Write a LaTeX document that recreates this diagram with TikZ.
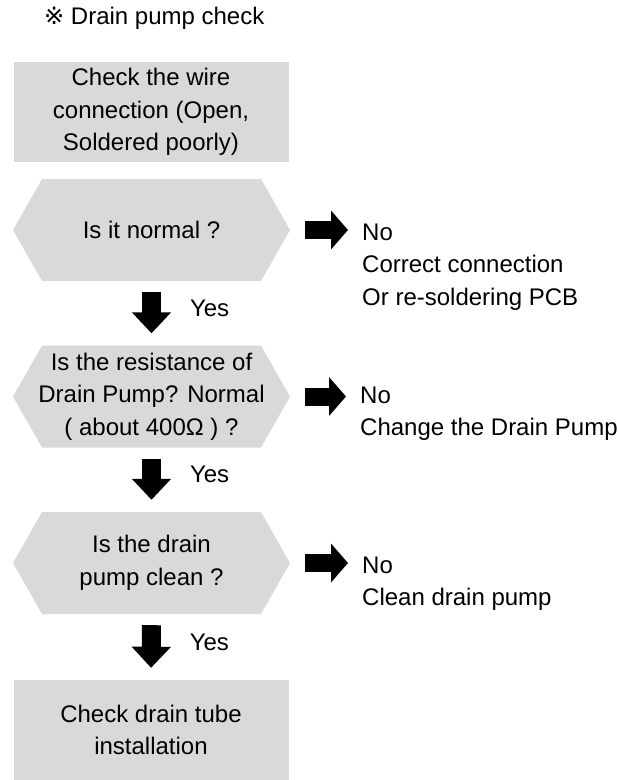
\documentclass[tikz,border=0pt]{standalone}
\usepackage{fontspec}
\setmainfont{Liberation Sans}
\newfontfamily\markfont{DejaVu Sans}
\usetikzlibrary{arrows.meta}
\definecolor{boxgray}{RGB}{217,217,217}

\begin{document}
\begin{tikzpicture}[
        x=1pt, y=-1pt,
        txt/.style={font=\fontsize{24}{32.5}\selectfont, align=center, inner sep=0pt},
        stepbox/.style={txt, fill=boxgray, minimum width=275pt, minimum height=100pt},
        question/.style={txt, minimum width=277pt, minimum height=102pt,
            path picture={\fill[boxgray] (path picture bounding box.west)
                -- ([xshift=29pt]path picture bounding box.north west)
                -- ([xshift=-29pt]path picture bounding box.north east)
                -- (path picture bounding box.east)
                -- ([xshift=-29pt]path picture bounding box.south east)
                -- ([xshift=29pt]path picture bounding box.south west) -- cycle;}},
        answer/.style={font=\fontsize{24}{32.5}\selectfont, align=left, inner sep=0pt, anchor=west},
        yesarrow/.style={line width=19pt, -{Triangle[width=38pt, length=21pt]}, shorten <=11pt, shorten >=12pt},
        noarrow/.style={line width=18pt, -{Triangle[width=38pt, length=17pt]}, shorten <=15pt, shorten >=14pt},
        yestext/.style={font=\fontsize{24}{30}\selectfont, inner sep=0pt, anchor=west, xshift=29pt, yshift=5pt}
    ]
        \useasboundingbox (0,0) rectangle (618,780);

        % Title
        \node[font=\fontsize{24}{30}\selectfont, anchor=west, inner sep=0pt] (title) at (44,18) {{\markfont ※} Drain pump check};

        % Steps and questions
        \node[stepbox] (wire) at (151,112) {Check the wire\\connection (Open,\\ Soldered poorly)};
        \node[question] (q1) at (151.5,230) {Is it normal ?};
        \node[question] (q2) at (151.5,396.5) {Is the resistance of\\Drain Pump? Normal\\( about 400Ω ) ?};
        \node[question] (q3) at (151.5,563) {Is the drain\\pump clean ?};
        \node[stepbox] (tube) at (151,730) {Check drain tube\\installation};

        % Answers for No
        \node[answer] (no1) at (362,267) {No\\Correct connection\\Or re-soldering PCB};
        \node[answer] (no2) at (360,413.5) {No\\Change the Drain Pump};
        \node[answer] (no3) at (362,583.5) {No\\Clean drain pump};

        % Yes arrows
        \draw[yesarrow] (q1.south) -- node[yestext] {Yes} (q2.north);
        \draw[yesarrow] (q2.south) -- node[yestext] {Yes} (q3.north);
        \draw[yesarrow] (q3.south) -- node[yestext] {Yes} (tube.north);

        % No arrows
        \draw[noarrow] (q1.east) -- (q1.east -| no1.west);
        \draw[noarrow] (q2.east) -- (q2.east -| no2.west);
        \draw[noarrow] (q3.east) -- (q3.east -| no3.west);
    \end{tikzpicture}
\end{document}
